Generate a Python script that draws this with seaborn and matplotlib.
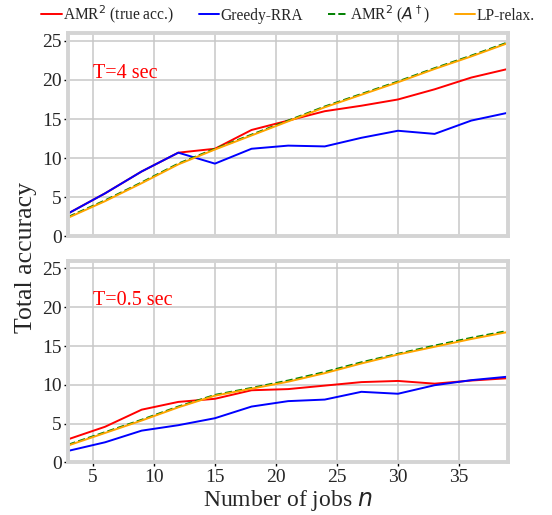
import numpy as np
import pandas as pd
import seaborn as sns
import matplotlib.pyplot as plt

## DATA
n_jobs = [3, 6, 9, 12, 15, 18, 21, 24, 27, 30, 33, 36, 39]

# T = 4 sec
amr_true_4 = [2.95, 5.5, 8.3, 10.7, 11.2, 13.6, 14.8, 16.0, 16.7, 17.5, 18.8, 20.3, 21.4]
greedy_4 = [2.95, 5.5, 8.3, 10.7, 9.3, 11.2, 11.6, 11.5, 12.6, 13.5, 13.1, 14.8, 15.8]
amr_dag_4 = [2.5, 4.6, 6.9, 9.3, 11.2, 13.0, 14.8, 16.6, 18.2, 19.8, 21.5, 23.1, 24.8]
lp_4 = [2.4, 4.5, 6.8, 9.2, 11.1, 12.9, 14.7, 16.5, 18.1, 19.7, 21.4, 23.0, 24.7]

# T = 0.5 sec
amr_true_05 = [3.0, 4.6, 6.8, 7.8, 8.2, 9.3, 9.45, 9.9, 10.35, 10.5, 10.15, 10.55, 10.85]
greedy_05 = [1.5, 2.6, 4.1, 4.8, 5.7, 7.2, 7.9, 8.1, 9.1, 8.85, 9.95, 10.6, 11.05]
amr_dag_05 = [2.3, 3.9, 5.5, 7.2, 8.7, 9.6, 10.55, 11.65, 12.9, 14.0, 15.05, 16.05, 16.95]
lp_05 = [2.2, 3.8, 5.4, 7.1, 8.6, 9.5, 10.4, 11.5, 12.75, 13.9, 14.9, 15.9, 16.8]

labels = ["AMR$^2$ (true acc.)", "Greedy-RRA", "AMR$^2$ ($A^\\dagger$)", "LP-relax."]
colors = ["red", "blue", "green", "orange"]
styles = ["-", "-", "--", "-"]

panels = [("T=4 sec", [amr_true_4, greedy_4, amr_dag_4, lp_4]),
          ("T=0.5 sec", [amr_true_05, greedy_05, amr_dag_05, lp_05])]

## STYLE
sns.set_style("whitegrid", {"grid.color": "#c8c8c8", "axes.edgecolor": "#d4d4d4"})
plt.rcParams["font.family"] = ["Liberation Serif", "DejaVu Serif"]
plt.rcParams["mathtext.fontset"] = "dejavusans"

fig = plt.figure(figsize=(5.52, 5.15), dpi=100)
ax_top = fig.add_axes([0.124, 0.541, 0.796, 0.395])
ax_bot = fig.add_axes([0.124, 0.102, 0.796, 0.392])

for ax, (title, series) in zip([ax_top, ax_bot], panels):
    for vals, lab, col, ls in zip(series, labels, colors, styles):
        df = pd.DataFrame({"n": n_jobs, "acc": vals})
        sns.lineplot(data=df, x="n", y="acc", ax=ax, color=col, linestyle=ls,
                     linewidth=1.4, label=lab, legend=False)
    ax.set_xlim(3, 39)
    ax.set_ylim(0, 26)
    ax.set_xticks([5, 10, 15, 20, 25, 30, 35])
    ax.set_yticks([0, 5, 10, 15, 20, 25])
    ax.grid(True, linewidth=1.1)
    for sp in ax.spines.values():
        sp.set_linewidth(2.8)
        sp.set_color("#d4d4d4")
    ax.tick_params(axis="both", labelsize=14, length=3, width=1, color="black",
                   pad=2, left=True, bottom=True)
    ax.set_xlabel("")
    ax.set_ylabel("")
    ax.text(5.0, 20.8, title, color="red", fontsize=14.5, va="center", ha="left")

ax_top.tick_params(axis="x", labelbottom=False, bottom=False)
ax_bot.set_xlabel("Number of jobs $n$", fontsize=17, labelpad=1)
fig.text(0.047, 0.5, "Total accuracy", rotation=90, fontsize=18.5, va="center", ha="center")

handles, lbls = ax_top.get_legend_handles_labels()
fig.legend(handles, lbls, loc="center", bbox_to_anchor=(0.522, 0.972), ncol=4,
           frameon=False, fontsize=11.2, handlelength=1.3, handletextpad=0.1,
           columnspacing=1.6)

fig.savefig("out.png", dpi=100)
